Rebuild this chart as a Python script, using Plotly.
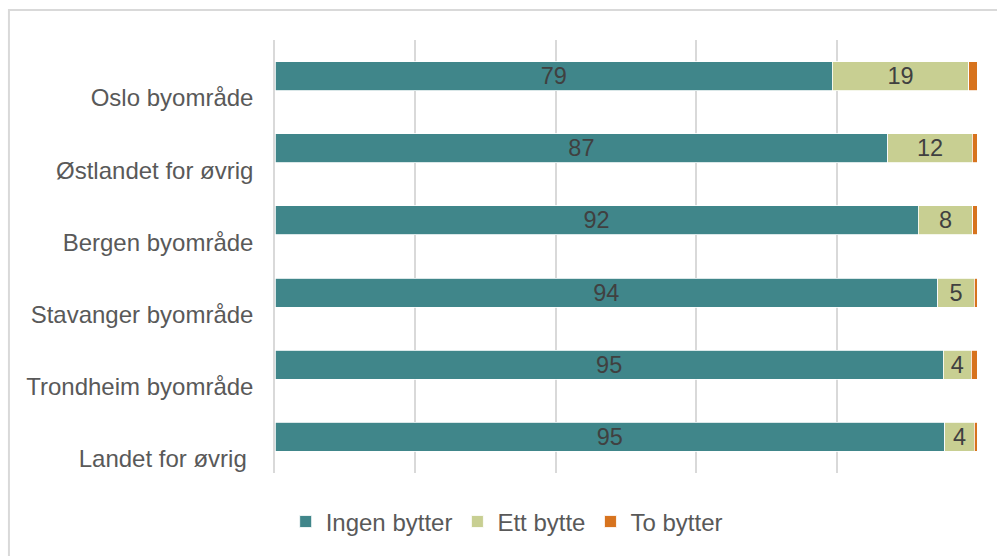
import plotly.graph_objects as go

categories = ["Oslo byområde", "Østlandet for øvrig", "Bergen byområde",
              "Stavanger byområde", "Trondheim byområde", "Landet for øvrig "]
ingen_bytter = [79.4, 87.3, 91.6, 94.4, 95.2, 95.4]
ett_bytte = [19.4, 12.0, 7.8, 5.2, 4.0, 4.2]
to_bytter = [1.2, 0.7, 0.6, 0.4, 0.8, 0.4]
series_names = ["Ingen bytter", "Ett bytte", "To bytter"]
colors = ["#40868A", "#C8CF92", "#D7731E"]

FONT = "Arial, 'Liberation Sans', sans-serif"
fig = go.Figure()
for name, vals, col, show_text in zip(series_names, [ingen_bytter, ett_bytte, to_bytter], colors,
                                      [True, True, False]):
    fig.add_trace(go.Bar(
        y=categories, x=vals, name=name, orientation="h",
        marker=dict(color=col, line=dict(color="white", width=0.8)),
        width=0.4,
        texttemplate="%{x:.0f}" if show_text else None,
        textposition="inside" if show_text else "none",
        insidetextanchor="middle",
        textangle=0,
        constraintext="none",
        textfont=dict(family=FONT, size=23.5, color="#404040"),
        hoverinfo="x+y+name",
    ))

fig.update_layout(
    barmode="stack",
    width=997, height=556,
    margin=dict(l=275, r=20, t=40, b=81),
    paper_bgcolor="white", plot_bgcolor="white",
    font=dict(family=FONT, color="#595959", size=24),
    xaxis=dict(range=[0, 100], dtick=20, showgrid=True, gridcolor="#d9d9d9", gridwidth=1.5,
               showticklabels=False, zeroline=False, ticks=""),
    yaxis=dict(autorange="reversed", showgrid=False, ticks="",
               tickfont=dict(family=FONT, size=24, color="#595959"),
               ticklabelstandoff=15, ticklabelshift=-22,
               showline=True, linecolor="#d9d9d9", linewidth=1.5),
    legend=dict(orientation="h", x=0.33, xanchor="center", y=-0.113, yanchor="middle",
                font=dict(family=FONT, size=24, color="#595959"),
                itemwidth=30, traceorder="normal"),
    shapes=[dict(type="rect", xref="paper", yref="paper", x0=-0.379, x1=1.2, y0=-0.3, y1=1.069,
                 line=dict(color="#d9d9d9", width=2), fillcolor="rgba(0,0,0,0)", layer="below")],
)

fig.write_html("out.html")
